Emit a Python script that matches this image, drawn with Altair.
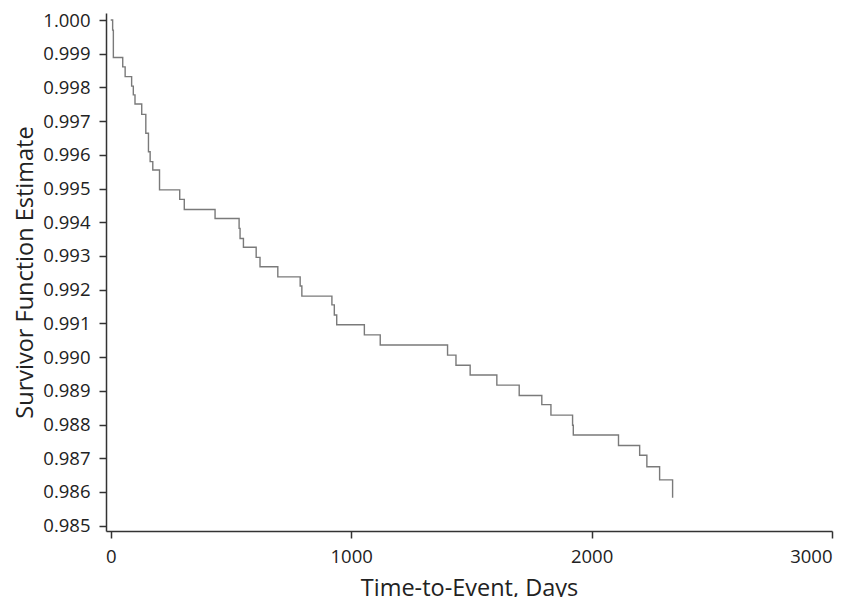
import altair as alt
import pandas as pd

# Kaplan-Meier step points (time in days, survivor estimate after the step)
days = [0, 8, 11, 50, 60, 87, 94, 101, 129, 146, 157, 164, 175, 203, 287, 306,
        434, 534, 538, 552, 605, 621, 695, 788, 795, 920, 930, 940, 1055, 1121,
        1401, 1436, 1495, 1606, 1699, 1793, 1831, 1921, 1924, 2112, 2200, 2230,
        2283, 2337]
survival = [1.00000, 0.99970, 0.99889, 0.99861, 0.99832, 0.99804, 0.99778,
            0.99751, 0.99720, 0.99664, 0.99609, 0.99580, 0.99555, 0.99496,
            0.99468, 0.99438, 0.99411, 0.99382, 0.99352, 0.99326, 0.99296,
            0.99268, 0.99238, 0.99211, 0.99181, 0.99155, 0.99125, 0.99096,
            0.99066, 0.99036, 0.99006, 0.98976, 0.98947, 0.98917, 0.98886,
            0.98859, 0.98828, 0.98798, 0.98769, 0.98738, 0.98709, 0.98675,
            0.98636, 0.98583]

x_ticks = [0, 1000, 2000, 3000]
y_ticks = [0.985, 0.986, 0.987, 0.988, 0.989, 0.990, 0.991, 0.992, 0.993,
           0.994, 0.995, 0.996, 0.997, 0.998, 0.999, 1.000]

df = pd.DataFrame({"days": days, "survival": survival})

FONT = "Open Sans"

chart = alt.Chart(df).mark_line(
    interpolate="step-after", color="#7a7a7a", strokeWidth=1.4
).encode(
    x=alt.X("days:Q",
            scale=alt.Scale(domain=[-19.6, 3000], nice=False, zero=False),
            axis=alt.Axis(values=x_ticks, format="d", title="Time-to-Event, Days",
                          grid=False, tickSize=7, labelPadding=9,
                          titlePadding=11)),
    y=alt.Y("survival:Q",
            scale=alt.Scale(domain=[0.984842, 1.000208], nice=False, zero=False),
            axis=alt.Axis(values=y_ticks, format=".3f",
                          title="Survivor Function Estimate",
                          grid=False, tickSize=7, labelPadding=9,
                          titlePadding=5)),
).properties(
    width=726, height=518,
    background="white",
    autosize=alt.AutoSizeParams(type="none"),
    padding={"left": 98, "top": 5, "right": 20, "bottom": 75},
).configure_view(stroke=None).configure_axis(
    domainColor="#333333", domainWidth=1.5, tickColor="#333333", tickWidth=1.5,
    labelFont=FONT, labelFontSize=18.5, labelColor="#222222",
    titleFont=FONT, titleFontSize=23.5, titleFontWeight="normal", titleColor="#222222",
)

chart.save("out.html", embed_options={"renderer": "svg", "actions": False})
